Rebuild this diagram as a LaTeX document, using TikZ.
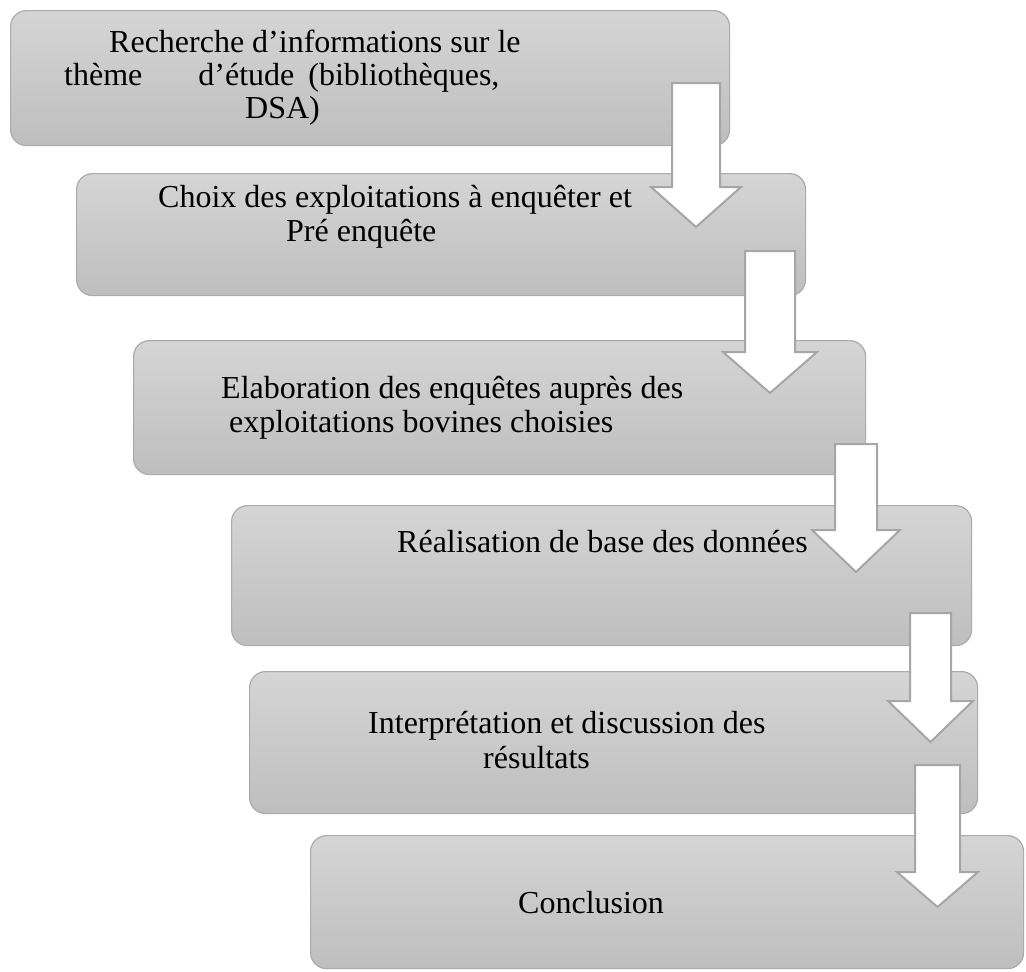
\documentclass[tikz,border=0pt]{standalone}
\usepackage{fontspec}
\setmainfont{Liberation Serif}
\definecolor{boxtop}{HTML}{D5D5D5}
\definecolor{boxbot}{HTML}{BEBEBE}
\definecolor{boxline}{HTML}{ABABAB}
\definecolor{arrline}{HTML}{A6A6A6}
\newcommand{\flowarrow}[6]{%
  \draw[blockarrow] (#1-#5,#2) -- (#1+#5,#2) -- (#1+#5,#3) -- (#1+#6,#3) -- (#1,#4) -- (#1-#6,#3) -- (#1-#5,#3) -- cycle;}
\tikzset{
  stepbox/.style={draw=boxline, line width=1.2pt, rounded corners=16pt,
    top color=boxtop, bottom color=boxbot, anchor=north west, inner sep=0pt},
  blockarrow/.style={draw=arrline, fill=white, line width=2pt, line join=miter},
  txt/.style={anchor=base west, inner sep=0pt, font=\fontsize{32}{34}\selectfont, text=black}
}
\begin{document}
\begin{tikzpicture}[x=1pt, y=-1pt]
\useasboundingbox (0,0) rectangle (1026,972);
% boxes
\node[stepbox, minimum width=719pt, minimum height=135pt] (b1) at (10,10) {};
\node[stepbox, minimum width=729pt, minimum height=122pt] (b2) at (76,173) {};
\node[stepbox, minimum width=732pt, minimum height=134pt] (b3) at (133,340) {};
\node[stepbox, minimum width=740pt, minimum height=140pt] (b4) at (231,505) {};
\node[stepbox, minimum width=728pt, minimum height=142pt] (b5) at (249,671) {};
\node[stepbox, minimum width=713pt, minimum height=133pt] (b6) at (310,835) {};
% texts
\node[txt] (t1a) at (109,52) {Recherche d’informations sur le};
\node[txt] (t1b) at (64,85) {thème\hspace{56pt}d’étude\hspace{14pt}(bibliothèques,};
\node[txt] (t1c) at (245,118) {DSA)};
\node[txt] (t2a) at (158,207) {Choix des exploitations à enquêter et};
\node[txt] (t2b) at (286,241) {Pré enquête};
\node[txt] (t3a) at (221,398) {Elaboration des enquêtes auprès des};
\node[txt] (t3b) at (229,432) {exploitations bovines choisies};
\node[txt] (t4a) at (397,552) {Réalisation de base des données};
\node[txt] (t5a) at (368,733) {Interprétation et discussion des};
\node[txt] (t5b) at (483,768) {résultats};
\node[txt] (t6a) at (518,913) {Conclusion};
% arrows
\flowarrow{696}{83}{187}{227}{24}{45}
\flowarrow{770}{251}{352}{393}{25}{47}
\flowarrow{856}{444}{530}{572}{21}{44}
\flowarrow{930.5}{613}{701}{742}{20.5}{42.5}
\flowarrow{937.5}{765}{872}{907}{22.5}{40.5}
\end{tikzpicture}
\end{document}
